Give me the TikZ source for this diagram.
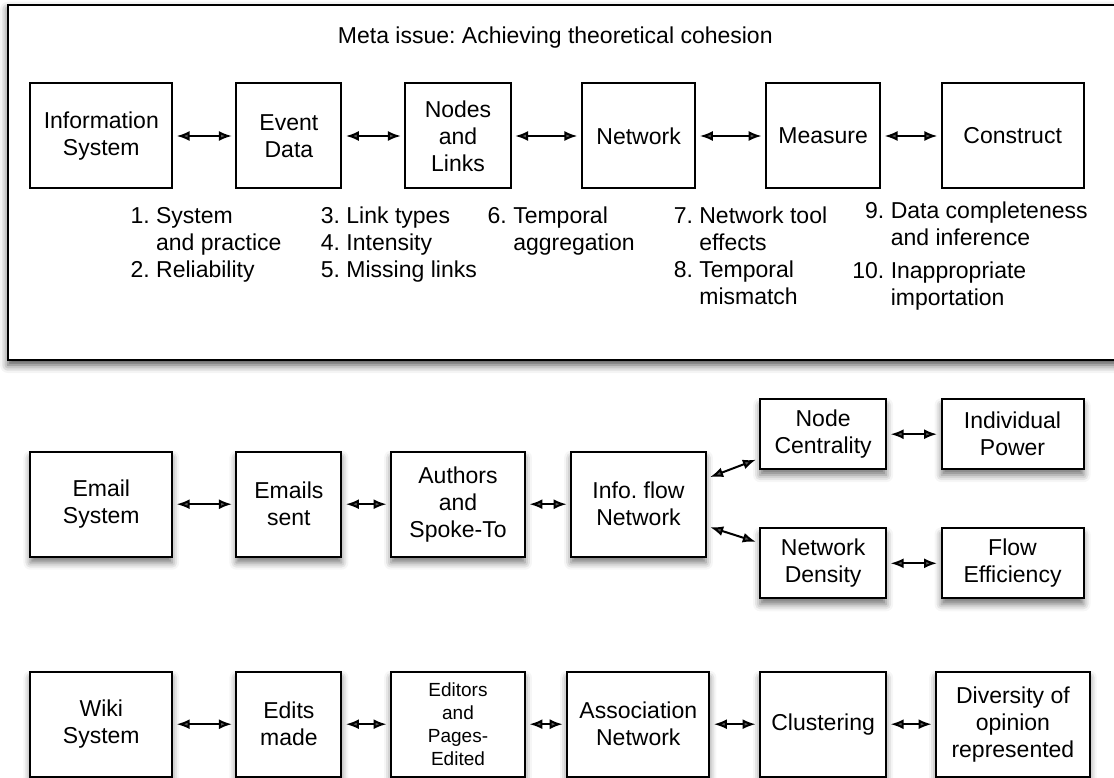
\documentclass[tikz,border=0pt]{standalone}
\usepackage{fontspec}
\setmainfont{Liberation Sans}
\usetikzlibrary{arrows.meta, shadows.blur}

\begin{document}
\begin{tikzpicture}[
    x=1pt, y=-1pt,
    every node/.style={font=\fontsize{23}{27}\selectfont\frenchspacing, align=center},
    box/.style={draw, line width=2pt, fill=white, inner sep=0pt, minimum height=105pt},
    sbox/.style={box, blur shadow={shadow xshift=0pt, shadow yshift=-6pt, shadow blur radius=7pt, shadow opacity=55}},
    link/.style={{Latex[length=13pt,width=10pt]}-{Latex[length=13pt,width=10pt]}, line width=2pt, shorten <=3.5pt, shorten >=3.5pt},
    issue/.style={anchor=base west, inner sep=0pt, align=left}
  ]
  \useasboundingbox (0,0) rectangle (1114,778);
  \draw[line width=2pt, fill=white, blur shadow={shadow xshift=0pt, shadow yshift=-5pt, shadow blur radius=8pt, shadow opacity=70}] (8,4.7) rectangle (1140,360);

  \node[anchor=base] (meta) at (555.3,43.3) {Meta issue: Achieving theoretical cohesion};

  \node[box, minimum width=141.7pt] (info) at (101.3,136) {Information\\System};
  \node[box, minimum width=105pt] (event) at (288.9,136) {Event\\Data};
  \node[box, minimum width=105.3pt] (links) at (458,136) {Nodes\\and\\Links};
  \node[box, minimum width=113.5pt] (net) at (638.6,136) {Network};
  \node[box, minimum width=114pt] (measure) at (823.1,136) {Measure};
  \node[box, minimum width=141.7pt] (construct) at (1012.7,136) {Construct};
  \draw[link] (info) -- (event);
  \draw[link] (event) -- (links);
  \draw[link] (links) -- (net);
  \draw[link] (net) -- (measure);
  \draw[link] (measure) -- (construct);

  \node[issue] (iss1) at (130.4,224) {\begin{tabular}[t]{@{}r@{ }l@{}}1.&System\\&and practice\\2.&Reliability\end{tabular}};
  \node[issue] (iss3) at (320.7,224) {\begin{tabular}[t]{@{}r@{ }l@{}}3.&Link types\\4.&Intensity\\5.&Missing links\end{tabular}};
  \node[issue] (iss6) at (487.5,224) {\begin{tabular}[t]{@{}r@{ }l@{}}6.&Temporal\\&aggregation\end{tabular}};
  \node[issue] (iss7) at (673.6,224) {\begin{tabular}[t]{@{}r@{ }l@{}}7.&Network tool\\&effects\\8.&Temporal\\&mismatch\end{tabular}};
  \node[issue] (iss9) at (852.2,218.7) {\begin{tabular}[t]{@{}r@{ }l@{}}9.&Data completeness\\&and inference\\[5.5pt]10.&Inappropriate\\&importation\end{tabular}};

  \node[sbox, minimum width=141.7pt] (email) at (101.3,504.2) {Email\\System};
  \node[sbox, minimum width=105pt] (sent) at (288.9,504.2) {Emails\\sent};
  \node[sbox, minimum width=133.9pt] (authors) at (458,504.2) {Authors\\and\\Spoke-To};
  \node[sbox, minimum width=134.7pt] (flow) at (638.5,504.2) {Info. flow\\Network};
  \node[sbox, minimum width=126pt, minimum height=70pt] (centrality) at (823.1,434.2) {Node\\Centrality};
  \node[sbox, minimum width=142pt, minimum height=70pt] (power) at (1012.5,434.2) {Individual\\Power};
  \node[sbox, minimum width=126pt, minimum height=70pt] (density) at (823.1,563.3) {Network\\Density};
  \node[sbox, minimum width=142pt, minimum height=70pt] (efficiency) at (1012.5,563.3) {Flow\\Efficiency};
  \draw[link] (email) -- (sent);
  \draw[link] (sent) -- (authors);
  \draw[link] (authors) -- (flow);
  \draw[link] (flow) -- (centrality);
  \draw[link] (flow) -- (density);
  \draw[link] (centrality) -- (power);
  \draw[link] (density) -- (efficiency);

  \node[sbox, minimum width=141.7pt] (wiki) at (101.3,724.2) {Wiki\\System};
  \node[sbox, minimum width=105pt] (edits) at (288.9,724.2) {Edits\\made};
  \node[sbox, minimum width=133.9pt, font=\fontsize{19}{23.3}\selectfont] (editors) at (458,724.2) {Editors\\and\\Pages-\\Edited};
  \node[sbox, minimum width=142.2pt] (assoc) at (638.3,724.2) {Association\\Network};
  \node[sbox, minimum width=126pt] (cluster) at (823.1,724.2) {Clustering};
  \node[sbox, minimum width=153.6pt] (diversity) at (1012.9,724.2) {Diversity of\\opinion\\represented};
  \draw[link] (wiki) -- (edits);
  \draw[link] (edits) -- (editors);
  \draw[link] (editors) -- (assoc);
  \draw[link] (assoc) -- (cluster);
  \draw[link] (cluster) -- (diversity);
\end{tikzpicture}
\end{document}
